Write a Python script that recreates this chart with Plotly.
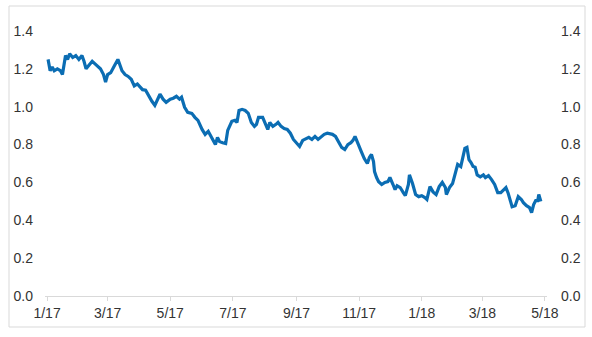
import plotly.graph_objects as go

dates = [
    "2017-01-02","2017-01-03","2017-01-04","2017-01-06","2017-01-08","2017-01-11","2017-01-14","2017-01-16",
    "2017-01-19","2017-01-21","2017-01-23","2017-01-26","2017-01-29","2017-02-01","2017-02-04","2017-02-06",
    "2017-02-08","2017-02-11","2017-02-14","2017-02-17","2017-02-22","2017-02-25","2017-02-27","2017-03-01",
    "2017-03-04","2017-03-08","2017-03-11","2017-03-13","2017-03-15","2017-03-18","2017-03-21","2017-03-24",
    "2017-03-27","2017-03-30","2017-04-02","2017-04-04","2017-04-07","2017-04-10","2017-04-13","2017-04-16",
    "2017-04-19","2017-04-21","2017-04-24","2017-04-27","2017-05-01","2017-05-04","2017-05-07","2017-05-10",
    "2017-05-12","2017-05-15","2017-05-18","2017-05-22","2017-05-25","2017-05-28","2017-06-01","2017-06-04",
    "2017-06-07","2017-06-10","2017-06-14","2017-06-16","2017-06-18","2017-06-21","2017-06-24","2017-06-26",
    "2017-06-30","2017-07-03","2017-07-05","2017-07-07","2017-07-10","2017-07-13","2017-07-16","2017-07-19",
    "2017-07-22","2017-07-24","2017-07-26","2017-07-30","2017-08-02","2017-08-04","2017-08-06","2017-08-09",
    "2017-08-12","2017-08-14","2017-08-17","2017-08-20","2017-08-23","2017-08-26","2017-08-29","2017-09-01",
    "2017-09-04","2017-09-07","2017-09-10","2017-09-13","2017-09-16","2017-09-19","2017-09-22","2017-09-25",
    "2017-09-28","2017-10-01","2017-10-04","2017-10-06","2017-10-09","2017-10-12","2017-10-15","2017-10-18",
    "2017-10-21","2017-10-24","2017-10-26","2017-10-28","2017-10-31","2017-11-03","2017-11-06","2017-11-09",
    "2017-11-11","2017-11-13","2017-11-15","2017-11-16","2017-11-18","2017-11-20","2017-11-23","2017-11-26",
    "2017-11-29","2017-12-01","2017-12-04","2017-12-06","2017-12-08","2017-12-11","2017-12-14","2017-12-16",
    "2017-12-19","2017-12-20","2017-12-23","2017-12-26","2017-12-29","2018-01-01","2018-01-04","2018-01-06",
    "2018-01-09","2018-01-12","2018-01-15","2018-01-18","2018-01-21","2018-01-24","2018-01-25","2018-01-28",
    "2018-01-31","2018-02-02","2018-02-05","2018-02-08","2018-02-10","2018-02-12","2018-02-14","2018-02-16",
    "2018-02-18","2018-02-20","2018-02-22","2018-02-24","2018-02-27","2018-03-02","2018-03-04","2018-03-07",
    "2018-03-10","2018-03-13","2018-03-16","2018-03-19","2018-03-22","2018-03-24","2018-03-26","2018-03-28",
    "2018-03-30","2018-04-02","2018-04-05","2018-04-08","2018-04-10","2018-04-13","2018-04-16","2018-04-18",
    "2018-04-20","2018-04-22","2018-04-24","2018-04-25","2018-04-27",
]

values = [
    1.25,1.22,1.19,1.21,1.19,1.20,1.19,1.17,
    1.27,1.25,1.28,1.26,1.27,1.25,1.27,1.24,
    1.20,1.22,1.24,1.225,1.20,1.17,1.13,1.17,
    1.18,1.22,1.25,1.22,1.19,1.17,1.16,1.145,
    1.11,1.12,1.10,1.09,1.087,1.055,1.03,1.007,
    1.04,1.066,1.04,1.023,1.04,1.045,1.055,1.04,
    1.05,0.997,0.97,0.965,0.944,0.928,0.88,0.854,
    0.87,0.843,0.80,0.838,0.816,0.81,0.806,0.875,
    0.923,0.928,0.917,0.98,0.986,0.98,0.965,0.917,
    0.896,0.907,0.944,0.944,0.907,0.88,0.917,0.896,
    0.907,0.917,0.896,0.885,0.88,0.86,0.827,0.81,
    0.79,0.822,0.832,0.838,0.827,0.843,0.827,0.843,
    0.854,0.86,0.854,0.854,0.843,0.816,0.785,0.774,
    0.80,0.81,0.822,0.843,0.80,0.764,0.726,0.70,
    0.732,0.748,0.71,0.657,0.626,0.604,0.589,0.60,
    0.604,0.626,0.589,0.562,0.583,0.573,0.546,0.53,
    0.589,0.64,0.594,0.536,0.525,0.53,0.52,0.51,
    0.578,0.55,0.536,0.578,0.60,0.573,0.536,0.573,
    0.594,0.63,0.695,0.684,0.737,0.78,0.785,0.72,
    0.705,0.684,0.68,0.64,0.63,0.64,0.626,0.636,
    0.615,0.589,0.546,0.546,0.562,0.573,0.546,0.51,
    0.472,0.477,0.525,0.51,0.493,0.477,0.467,0.44,
    0.483,0.504,0.504,0.536,0.50,
]

tick_dates = ["2017-01-01","2017-03-01","2017-05-01","2017-07-01","2017-09-01",
              "2017-11-01","2018-01-01","2018-03-01","2018-05-01"]
tick_labels = ["1/17","3/17","5/17","7/17","9/17","11/17","1/18","3/18","5/18"]
y_ticks = [0.0, 0.2, 0.4, 0.6, 0.8, 1.0, 1.2, 1.4]
y_labels = ["0.0", "0.2", "0.4", "0.6", "0.8", "1.0", "1.2", "1.4"]

LINE = "#0b6db3"
TXT = "#333333"
GRAY = "#d9d9d9"
FONT = "Liberation Sans, Arial, sans-serif"
FS = 14

fig = go.Figure()
fig.add_trace(go.Scatter(x=dates, y=values, mode="lines",
                         line=dict(color=LINE, width=3), showlegend=False,
                         hoverinfo="skip", yaxis="y2", opacity=0))
fig.add_trace(go.Scatter(x=dates, y=values, mode="lines",
                         line=dict(color=LINE, width=3.2), showlegend=False))

fig.update_layout(
    width=592, height=337,
    margin=dict(l=45, r=45, t=31, b=41),
    paper_bgcolor="white", plot_bgcolor="white",
    font=dict(family=FONT, size=FS, color=TXT),
    xaxis=dict(type="date", range=["2016-12-30", "2018-05-03"],
               tickvals=tick_dates, ticktext=tick_labels, tickangle=0,
               showgrid=False, zeroline=False, showline=True, linecolor=GRAY, linewidth=1,
               ticks="outside", ticklen=4, tickcolor=GRAY,
               tickfont=dict(family=FONT, size=FS, color=TXT)),
    yaxis=dict(range=[0, 1.4], tickvals=y_ticks, ticktext=y_labels,
               showgrid=False, zeroline=False, showline=False, ticks="",
               ticklabelstandoff=11,
               tickfont=dict(family=FONT, size=FS, color=TXT)),
    yaxis2=dict(range=[0, 1.4], tickvals=y_ticks, ticktext=y_labels,
                overlaying="y", side="right",
                showgrid=False, zeroline=False, showline=False, ticks="",
                ticklabelstandoff=13,
                tickfont=dict(family=FONT, size=FS, color=TXT)),
    shapes=[dict(type="rect", xref="paper", yref="paper",
                 x0=(9 - 45) / 502, x1=(585 - 45) / 502,
                 y0=(296 - 327) / 265, y1=(296 - 6) / 265,
                 line=dict(color=GRAY, width=1), fillcolor="rgba(0,0,0,0)",
                 layer="below")],
)

fig.write_html("out.html")
